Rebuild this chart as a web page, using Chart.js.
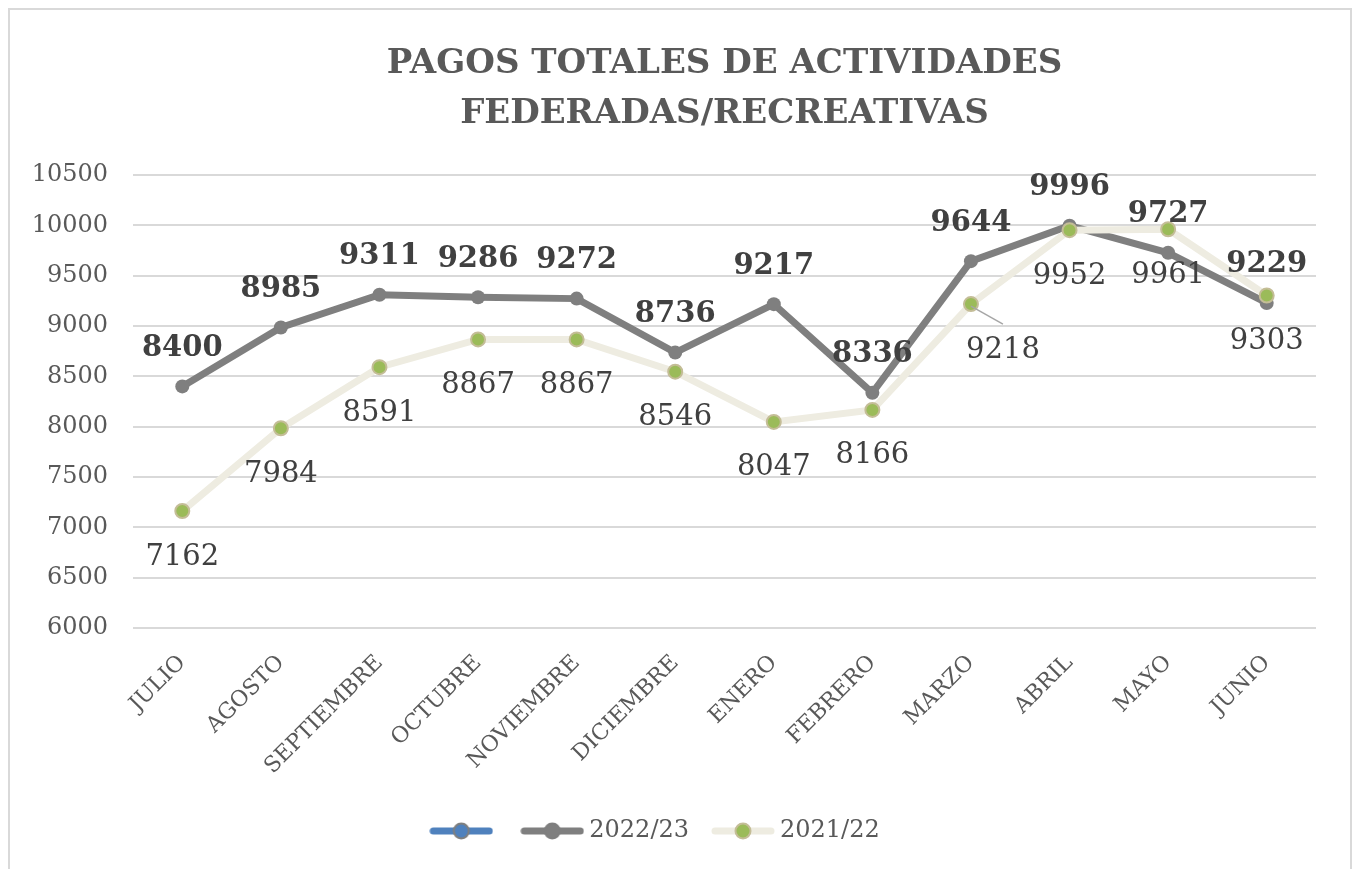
<!DOCTYPE html>
<html lang="es">
<head>
    <meta charset="UTF-8">
    <title>Pagos totales</title>
    <script src="https://cdn.jsdelivr.net/npm/chart.js"></script>
    <style>
        body { margin: 0; background: #fff; }
        .marco { position: absolute; left: 0; top: 0; width: 1355px; height: 869px; }
        .borde { position: absolute; left: 8px; top: 8px; width: 1340px; height: 880px; border: 2px solid #d9d9d9; pointer-events: none; }
    </style>
</head>
<body>
    <div class="marco"><canvas id="grafico_pagos"></canvas></div>
    <div class="borde"></div>

<script>
    // datos
    var meses = ['JULIO', 'AGOSTO', 'SEPTIEMBRE', 'OCTUBRE', 'NOVIEMBRE', 'DICIEMBRE',
                 'ENERO', 'FEBRERO', 'MARZO', 'ABRIL', 'MAYO', 'JUNIO'];
    var pagos2223 = [8400, 8985, 9311, 9286, 9272, 8736, 9217, 8336, 9644, 9996, 9727, 9229];
    var pagos2122 = [7162, 7984, 8591, 8867, 8867, 8546, 8047, 8166, 9218, 9952, 9961, 9303];
    var serieVacia = [];

    var titulo = ['PAGOS TOTALES DE ACTIVIDADES', 'FEDERADAS/RECREATIVAS'];
    var ticksY = { min: 6000, max: 10500, paso: 500 };

    var fuente = 'DejaVu Serif';

    // icono de leyenda: linea con marcador en el medio
    function iconoLeyenda(colorLinea, colorPunto, colorBorde) {
        var c = document.createElement('canvas');
        c.width = 64; c.height = 20;
        var g = c.getContext('2d');
        g.strokeStyle = colorLinea;
        g.lineWidth = 7;
        g.lineCap = 'round';
        g.beginPath(); g.moveTo(4, 10); g.lineTo(60, 10); g.stroke();
        g.fillStyle = colorPunto;
        g.strokeStyle = colorBorde;
        g.lineWidth = 2;
        g.beginPath(); g.arc(32, 10, 7.5, 0, Math.PI * 2); g.fill(); g.stroke();
        return c;
    }

    var iconos = [
        iconoLeyenda('#4f81bd', '#4f81bd', '#7f7f7f'),
        iconoLeyenda('#7f7f7f', '#7f7f7f', '#7f7f7f'),
        iconoLeyenda('#eeece1', '#9bbb59', '#c4bd97')
    ];

    // etiquetas de datos (sin plugin externo)
    var etiquetas = {
        id: 'etiquetas',
        afterDatasetsDraw: function(chart) {
            var ctx = chart.ctx;
            ctx.save();
            ctx.textAlign = 'center';
            ctx.textBaseline = 'middle';
            ctx.fillStyle = '#404040';

            var gris = chart.getDatasetMeta(1);
            ctx.font = 'bold 29px "' + fuente + '"';
            gris.data.forEach(function(p, i) {
                ctx.fillText(pagos2223[i], p.x, p.y - 38);
            });

            var clara = chart.getDatasetMeta(2);
            ctx.font = '29px "' + fuente + '"';
            clara.data.forEach(function(p, i) {
                if (i === 8) {
                    // etiqueta movida a mano, con linea guia
                    ctx.strokeStyle = '#a6a6a6';
                    ctx.lineWidth = 1.5;
                    ctx.beginPath(); ctx.moveTo(p.x, p.y + 2); ctx.lineTo(p.x + 32, p.y + 20); ctx.stroke();
                    ctx.fillText(pagos2122[i], p.x + 32, p.y + 46);
                } else {
                    ctx.fillText(pagos2122[i], p.x, p.y + 46);
                }
            });
            ctx.restore();
        }
    };

    var ctx = document.getElementById('grafico_pagos').getContext('2d');

    var config = {
        type: 'line',
        data: {
            labels: meses,
            datasets: [
                {
                    label: '',
                    data: serieVacia,
                    borderColor: '#4f81bd',
                    backgroundColor: '#4f81bd',
                    order: 2
                },
                {
                    label: '2022/23',
                    data: pagos2223,
                    borderColor: '#7f7f7f',
                    backgroundColor: '#7f7f7f',
                    borderWidth: 7,
                    pointRadius: 7,
                    pointBorderWidth: 0,
                    pointBackgroundColor: '#7f7f7f',
                    tension: 0,
                    order: 1
                },
                {
                    label: '2021/22',
                    data: pagos2122,
                    borderColor: '#eeece1',
                    backgroundColor: '#9bbb59',
                    borderWidth: 7,
                    pointRadius: 7,
                    pointBorderWidth: 2,
                    pointBorderColor: '#c4bd97',
                    pointBackgroundColor: '#9bbb59',
                    tension: 0,
                    order: 0
                }
            ]
        },
        options: {
            responsive: true,
            maintainAspectRatio: false,
            animation: false,
            layout: { padding: { left: 0, right: 39, top: 0, bottom: 16 } },
            plugins: {
                tooltip: { enabled: false },
                title: {
                    display: true,
                    fullSize: false,
                    text: titulo,
                    color: '#595959',
                    font: { family: fuente, size: 34, weight: 'bold', lineHeight: 50 / 34 },
                    padding: { top: 39, bottom: 36 }
                },
                legend: {
                    position: 'bottom',
                    labels: {
                        usePointStyle: true,
                        pointStyleWidth: 50,
                        padding: 29,
                        color: '#595959',
                        font: { family: fuente, size: 24 },
                        generateLabels: function(chart) {
                            return chart.data.datasets.map(function(ds, i) {
                                return {
                                    text: ds.label,
                                    pointStyle: iconos[i],
                                    datasetIndex: i,
                                    fontColor: '#595959',
                                    hidden: false,
                                    lineWidth: 0
                                };
                            });
                        }
                    }
                }
            },
            scales: {
                x: {
                    offset: true,
                    grid: { display: false },
                    border: { display: false },
                    ticks: {
                        color: '#595959',
                        font: { family: fuente, size: 22 },
                        minRotation: 45,
                        maxRotation: 45,
                        padding: 14
                    },
                    afterFit: function(scale) { scale.height = 162; }
                },
                y: {
                    min: ticksY.min,
                    max: ticksY.max,
                    grid: { color: '#d9d9d9', lineWidth: 2, drawTicks: false },
                    border: { display: false },
                    ticks: {
                        stepSize: ticksY.paso,
                        color: '#595959',
                        font: { family: fuente, size: 24 },
                        padding: 25,
                        callback: function(v) { return String(v); }
                    },
                    afterFit: function(scale) { scale.width = 133; }
                }
            }
        },
        plugins: [etiquetas]
    };

    new Chart(ctx, config);
</script>
</body>
</html>
